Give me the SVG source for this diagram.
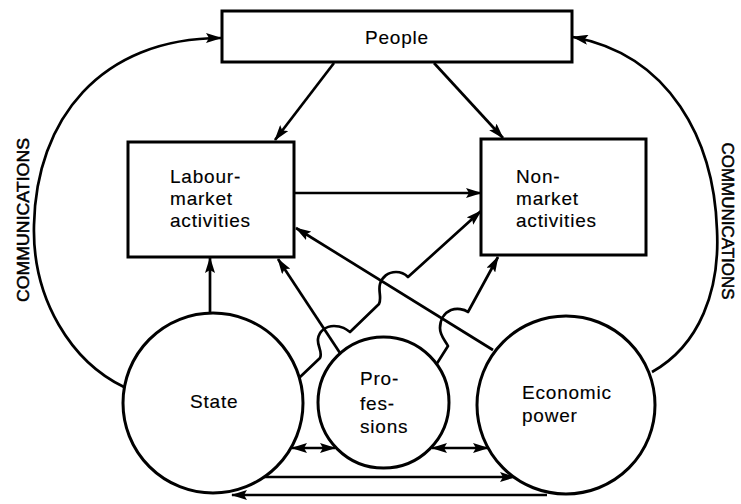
<svg xmlns="http://www.w3.org/2000/svg" width="741" height="504" viewBox="0 0 741 504">
<style>
  .box { fill: #fff; stroke: #000; stroke-width: 3; }
  .circ { fill: #fff; stroke: #000; stroke-width: 3; }
  .lbl { font-family: "Liberation Sans", Arial, Helvetica, sans-serif; font-size: 19px; letter-spacing: 0.8px; fill: #000; stroke: #000; stroke-width: 0.15px; }
  .comm { font-family: "Liberation Sans", Arial, Helvetica, sans-serif; font-size: 17px; fill: #000; stroke: #000; stroke-width: 0.5px; }
  .ln { fill: none; stroke: #000; stroke-width: 2.7; stroke-linejoin: round; }
  .ar { marker-end: url(#ah); }
  .dbl { marker-end: url(#ah); marker-start: url(#ahs); }
</style>
<defs>
  <marker id="ah" viewBox="0 0 16 10" refX="15" refY="5" markerWidth="16" markerHeight="10" markerUnits="userSpaceOnUse" orient="auto">
    <path d="M0,0 L16,5 L0,10 L3,5 z" fill="#000"/>
  </marker>
  <marker id="ahs" viewBox="0 0 16 10" refX="15" refY="5" markerWidth="16" markerHeight="10" markerUnits="userSpaceOnUse" orient="auto-start-reverse">
    <path d="M0,0 L16,5 L0,10 L3,5 z" fill="#000"/>
  </marker>
</defs>
<rect width="741" height="504" fill="#fff"/>

<g id="connectors">
  <!-- communications arcs -->
  <path class="ln ar" d="M124,387 C72,362 32,300 34,225 C36,120 100,38 221,38"/>
  <path class="ln ar" d="M652,372 C700,345 720,290 717,230 C714,140 670,55 573,37"/>
  <text class="comm" transform="translate(29,220) rotate(-90)" text-anchor="middle" textLength="164" lengthAdjust="spacingAndGlyphs">COMMUNICATIONS</text>
  <text class="comm" transform="translate(722,221) rotate(90)" text-anchor="middle" textLength="157" lengthAdjust="spacingAndGlyphs">COMMUNICATIONS</text>
  <!-- people to activities -->
  <path class="ln ar" d="M334,63 L275,140"/>
  <path class="ln ar" d="M434,63 L503,138"/>
  <!-- labour to non-market -->
  <path class="ln ar" d="M295,193 L481,193"/>
  <!-- state to labour -->
  <path class="ln ar" d="M210,313 L210,258"/>
  <!-- professions to labour -->
  <path class="ln ar" d="M340,353 L278,259"/>
  <!-- economic power to labour -->
  <path class="ln ar" d="M493,350 L296,228"/>
  <!-- state to non-market (with hops) -->
  <path class="ln ar" d="M299,378 L320,358 C323,352 317,346 318,339 C319,331 326,326 334,326 C342,326 346,329 350,332 L379,304 C382,298 378,291 380,284 C382,277 388,272 396,272 C402,272 405,274 408,277 L481,211"/>
  <!-- professions to non-market (with hop) -->
  <path class="ln ar" d="M436,365 L448,346 C445,340 440,336 440,328 C440,320 444,313 451,310 C457,308 464,309 468,312 L498,257"/>
  <!-- bottom two-way arrows -->
  <path class="ln dbl" d="M292,448 L335,448"/>
  <path class="ln dbl" d="M432,448 L488,448"/>
  <!-- bottom long arrows -->
  <path class="ln ar" d="M263,477 L515,477"/>
  <path class="ln ar" d="M547,495 L232,495"/>
</g>

<g id="people">
  <rect class="box" x="222" y="11" width="350" height="51"/>
  <text class="lbl" x="397" y="44" text-anchor="middle">People</text>
</g>

<g id="labour">
  <rect class="box" x="128" y="142" width="166" height="115"/>
  <text class="lbl" x="170" y="183">Labour-</text>
  <text class="lbl" x="170" y="205">market</text>
  <text class="lbl" x="170" y="227">activities</text>
</g>

<g id="nonmarket">
  <rect class="box" x="481" y="139" width="165" height="116"/>
  <text class="lbl" x="516" y="183">Non-</text>
  <text class="lbl" x="516" y="205">market</text>
  <text class="lbl" x="516" y="227">activities</text>
</g>

<g id="state">
  <circle class="circ" cx="213" cy="403" r="90"/>
  <text class="lbl" x="190" y="408">State</text>
</g>

<g id="professions">
  <circle class="circ" cx="383.5" cy="402.5" r="65.5"/>
  <text class="lbl" x="360" y="385">Pro-</text>
  <text class="lbl" x="360" y="410">fes-</text>
  <text class="lbl" x="360" y="433">sions</text>
</g>

<g id="economic">
  <circle class="circ" cx="566" cy="405" r="89"/>
  <text class="lbl" x="522" y="399">Economic</text>
  <text class="lbl" x="522" y="422">power</text>
</g>
</svg>
